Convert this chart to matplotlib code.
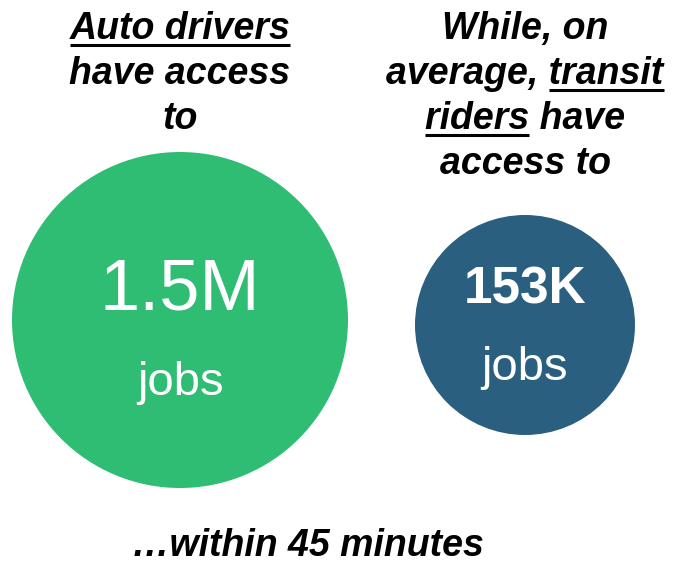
import matplotlib.pyplot as plt
from matplotlib.patches import Circle

# ---- values ----
groups = ["auto", "transit"]
values = ["1.5M", "153K"]
unit = "jobs"
footer = "\u2026within 45 minutes"

# heading lines, each split into (text, underlined) pieces
headings = [
    [[("Auto drivers", True)], [("have access", False)], [("to", False)]],
    [[("While, on", False)],
     [("average, ", False), ("transit", True)],
     [("riders", True), (" have", False)],
     [("access to", False)]],
]

# ---- layout (pixel coords) ----
W, H = 673, 564
centers = [(180, 320), (525, 325)]
radii = [168, 110]
colors = ["#2EBD73", "#2A5F80"]
value_font = [dict(size=52, weight="normal"), dict(size=37, weight="bold")]
value_base = [310, 304]
unit_size = [34, 34]
unit_base = [395, 380]
head_x = [180, 525]
head_base0 = 39
head_step = 45
FONT = "Liberation Sans"

fig = plt.figure(figsize=(W / 100, H / 100), dpi=100)
ax = fig.add_axes([0, 0, 1, 1])
ax.set_xlim(0, W)
ax.set_ylim(H, 0)
ax.set_aspect("equal")
ax.axis("off")

for (cx, cy), r, c in zip(centers, radii, colors):
    ax.add_patch(Circle((cx, cy), r, color=c, lw=0))

for i in range(len(groups)):
    cx = centers[i][0]
    ax.text(cx, value_base[i], values[i], ha="center", va="baseline",
            color="white", family=FONT, **value_font[i])
    ax.text(cx, unit_base[i], unit, ha="center", va="baseline",
            color="white", family=FONT, size=unit_size[i])

renderer = fig.canvas.get_renderer()
inv = ax.transData.inverted()


def text_width(s, **kw):
    t = ax.text(0, 0, s, **kw)
    w = t.get_window_extent(renderer).width
    t.remove()
    return w


style = dict(family=FONT, size=27, weight="bold", style="italic")

for x, lines in zip(head_x, headings):
    for j, pieces in enumerate(lines):
        y = head_base0 + j * head_step
        full = "".join(p for p, _ in pieces)
        t = ax.text(x, y, full, ha="center", va="baseline", color="black", **style)
        x0 = t.get_window_extent(renderer).x0
        for k, (piece, under) in enumerate(pieces):
            if not under:
                continue
            upto = "".join(p for p, _ in pieces[:k + 1])
            right = x0 + text_width(upto, **style)
            left = right - text_width(piece, **style)
            lx0 = inv.transform((left, 0))[0]
            lx1 = inv.transform((right, 0))[0]
            ax.plot([lx0, lx1], [y + 6, y + 6], color="black", lw=2.2,
                    solid_capstyle="butt")

ax.text(308, 556, footer, ha="center", va="baseline", color="black", **style)

fig.savefig("out.png", dpi=100)
